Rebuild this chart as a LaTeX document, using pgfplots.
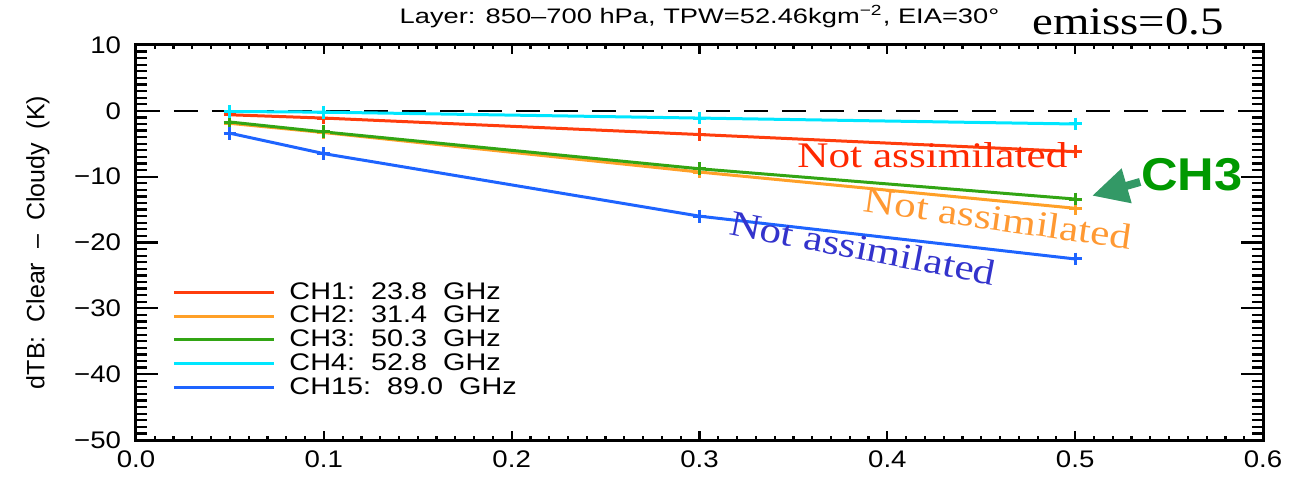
\documentclass[border=0pt]{standalone}
\usepackage{fontspec}
\setmainfont{Liberation Sans}
\newfontfamily\timesfont{Liberation Serif}
\usepackage{graphicx}
\usepackage{pgfplots}
\pgfplotsset{compat=1.18}
\usetikzlibrary{arrows.meta}
\definecolor{ch1}{RGB}{255,61,13}
\definecolor{ch2}{RGB}{255,160,40}
\definecolor{ch3}{RGB}{50,165,20}
\definecolor{ch4}{RGB}{0,230,255}
\definecolor{ch15}{RGB}{30,100,255}
\definecolor{redtxt}{RGB}{255,40,0}
\definecolor{orangetxt}{RGB}{255,153,51}
\definecolor{bluetxt}{RGB}{51,51,204}
\definecolor{greentxt}{RGB}{0,153,0}
\definecolor{arrowgreen}{RGB}{51,153,102}
\begin{document}
\begin{tikzpicture}
\begin{axis}[
  name=main, at={(0,0)}, anchor=south west,
  scale only axis, width=563.5pt, height=197.5pt,
  xmin=0, xmax=0.6, ymin=-50, ymax=10,
  xtick={0,0.1,0.2,0.3,0.4,0.5,0.6},
  xticklabels={0.0,0.1,0.2,0.3,0.4,0.5,0.6},
  ytick={-50,-40,-30,-20,-10,0,10},
  yticklabels={−50,−40,−30,−20,−10,0,10},
  tick align=inside,
  major tick length=0pt,
  axis line style={line width=1.5pt},
  tick label style={font=\fontsize{12}{12}\selectfont, xscale=1.15},
  yticklabel style={xshift=-3pt},
  xticklabel style={yshift=-2pt},
  ylabel={dTB:\ \ Clear \ –\ \ Cloudy \ (K)},
  ylabel style={font=\fontsize{12.5}{12.5}\selectfont, at={(axis description cs:0,0.5)}, anchor=center, yshift=49pt},
  title={\scalebox{1.3}[1]{Layer: 850–700 hPa, TPW=52.46kgm\textsuperscript{−2}, EIA=30°}},
  title style={font=\fontsize{10.5}{10.5}\selectfont, at={(axis description cs:0.5,1)}, anchor=center, yshift=8pt},
  legend style={at={(rel axis cs:0.032,0.41)}, anchor=north west, draw=none, fill=none,
    font=\fontsize{12}{12}\selectfont, row sep=-2pt, inner sep=0pt},
  legend cell align=left,
  legend image code/.code={\draw[#1, mark=none, line width=1.5pt] (0pt,0pt) -- (50pt,0pt);},
  clip=false,
]
\addplot[black, line width=1.3pt, dash pattern=on 12pt off 7pt, forget plot] coordinates {(0,0) (0.6,0)};
\addplot[ch1, line width=1.5pt, mark=+, mark size=3.2pt] coordinates {(0.05,-0.6) (0.1,-1.1) (0.3,-3.6) (0.5,-6.2)};
\addlegendentry{\hspace{5pt}\scalebox{1.2}[1]{CH1:\ \ 23.8\ \ GHz}}
\addplot[ch2, line width=1.5pt, mark=+, mark size=3.2pt] coordinates {(0.05,-1.9) (0.1,-3.3) (0.3,-9.3) (0.5,-14.8)};
\addlegendentry{\hspace{5pt}\scalebox{1.2}[1]{CH2:\ \ 31.4\ \ GHz}}
\addplot[ch3, line width=1.5pt, mark=+, mark size=3.2pt] coordinates {(0.05,-1.7) (0.1,-3.2) (0.3,-8.8) (0.5,-13.4)};
\addlegendentry{\hspace{5pt}\scalebox{1.2}[1]{CH3:\ \ 50.3\ \ GHz}}
\addplot[ch4, line width=1.5pt, mark=+, mark size=3.2pt] coordinates {(0.05,-0.1) (0.1,-0.2) (0.3,-1.1) (0.5,-2.0)};
\addlegendentry{\hspace{5pt}\scalebox{1.2}[1]{CH4:\ \ 52.8\ \ GHz}}
\addplot[ch15, line width=1.5pt, mark=+, mark size=3.2pt] coordinates {(0.05,-3.4) (0.1,-6.5) (0.3,-16.0) (0.5,-22.5)};
\addlegendentry{\hspace{5pt}\scalebox{1.2}[1]{CH15:\ \ 89.0\ \ GHz}}
\node[redtxt, inner sep=0pt] at (axis cs:0.424,-6.7) {\timesfont\fontsize{18}{18}\selectfont\scalebox{1.2}[1]{Not assimilated}};
\node[orangetxt, inner sep=0pt, rotate=-8] at (axis cs:0.459,-16.3) {\timesfont\fontsize{18}{18}\selectfont\scalebox{1.2}[1]{Not assimilated}};
\node[bluetxt, inner sep=0pt, rotate=-11] at (axis cs:0.387,-20.8) {\timesfont\fontsize{18}{18}\selectfont\scalebox{1.2}[1]{Not assimilated}};
\node[greentxt, inner sep=0pt] at (axis cs:0.562,-9.7) {\fontsize{23}{23}\selectfont\bfseries\scalebox{1.1}[1]{CH3}};
\draw[arrowgreen, line width=4pt, -{Triangle[length=18pt, width=17pt]}] (axis cs:0.5346,-10.8) -- (axis cs:0.509,-12.9);
\node[anchor=west, inner sep=0pt] at (axis cs:0.477,13.5) {\timesfont\fontsize{19.5}{19.5}\selectfont\scalebox{1.2}[1]{emiss=0.5}};
\end{axis}
% axis tick marks (IDL style: inside, all four sides)
\foreach \i in {0,...,60}{
  \pgfmathtruncatemacro\m{mod(\i,10)}
  \ifnum\m=0 \def\lx{4.5pt}\def\ly{11pt}\else \def\lx{2pt}\def\ly{5.5pt}\fi
  \draw[black, line width=1.1pt] (\i*9.391667pt,0pt) -- ++(0pt,\lx);
  \draw[black, line width=1.1pt] (\i*9.391667pt,197.5pt) -- ++(0pt,-\lx);
  \draw[black, line width=1.1pt] (0pt,\i*3.291667pt) -- ++(\ly,0pt);
  \draw[black, line width=1.1pt] (563.5pt,\i*3.291667pt) -- ++(-\ly,0pt);
}
\pgfresetboundingbox
\path[use as bounding box] ([shift={(-68pt,-21pt)}]main.south west) rectangle ([shift={(16pt,22.5pt)}]main.north east);
\end{tikzpicture}
\end{document}
